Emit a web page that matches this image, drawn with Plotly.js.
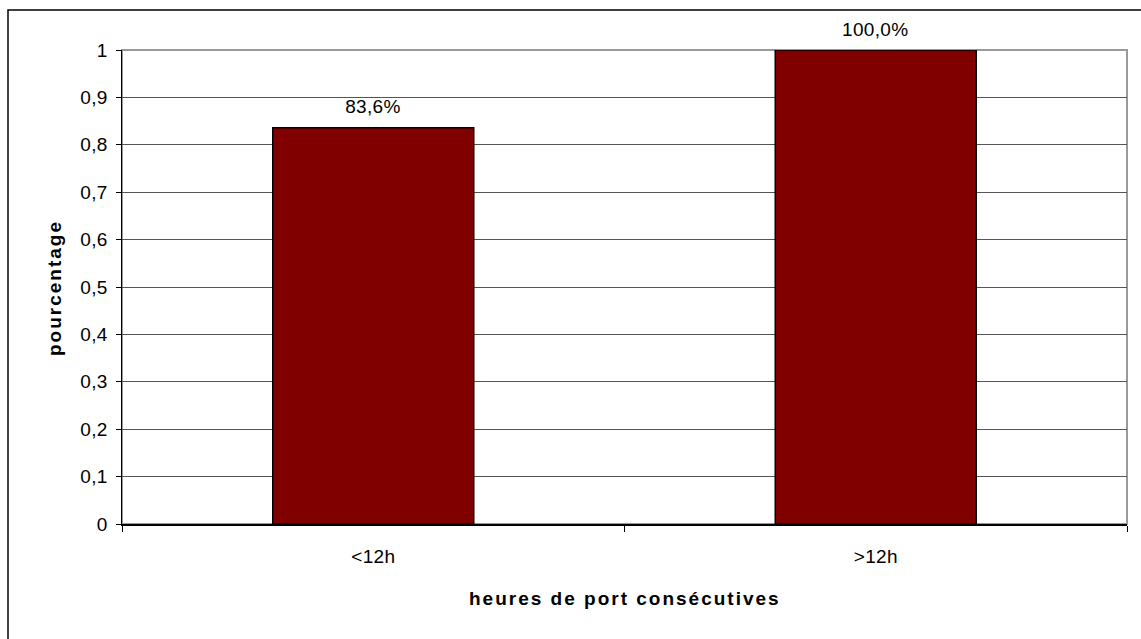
<!DOCTYPE html>
<html>
<head>
<meta charset="utf-8">
<script src="https://cdn.plot.ly/plotly-3.0.1.min.js"></script>
<style>
html,body{margin:0;padding:0;background:#fff;}
#chart{width:1141px;height:639px;}
.xtick text,.ytick text,.annotation.val text{letter-spacing:0.3px;}
.annotation.ttl text{letter-spacing:2px;}
</style>
</head>
<body>
<div id="chart"></div>
<script>
const categories = ["<12h", ">12h"];
const values = [0.836, 1.0];
const labels = ["83,6%", "100,0%"];
const yTickVals = [0, 0.1, 0.2, 0.3, 0.4, 0.5, 0.6, 0.7, 0.8, 0.9, 1];
const yTickText = ["0", "0,1", "0,2", "0,3", "0,4", "0,5", "0,6", "0,7", "0,8", "0,9", "1"];
const xTitle = "heures de port consécutives";
const yTitle = "pourcentage";

const font = "Liberation Sans, Arial, sans-serif";

const trace = {
  type: "bar",
  x: categories,
  y: values,
  marker: {color: "#800000", line: {color: "#000000", width: 1.5}},
  hoverinfo: "none"
};

const annotations = categories.map((c, i) => ({
  x: c, y: values[i], xref: "x", yref: "y",
  text: labels[i], showarrow: false,
  yanchor: "middle", yshift: 21,
  font: {family: font, size: 19, color: "#000"}
}));
annotations.push({
  xref: "paper", yref: "paper", x: (625 - 122) / 1005, y: (524 - 598) / 474,
  xanchor: "center", yanchor: "middle", showarrow: false,
  text: xTitle, font: {family: font, size: 19, color: "#000", weight: "bold"}
});
annotations.push({
  xref: "paper", yref: "paper", x: (54 - 122) / 1005, y: (524 - 288) / 474,
  xanchor: "center", yanchor: "middle", showarrow: false, textangle: -90,
  text: yTitle, font: {family: font, size: 19, color: "#000", weight: "bold"}
});

const layout = {
  width: 1141, height: 639,
  margin: {l: 122, r: 14, t: 50, b: 115},
  paper_bgcolor: "#fff", plot_bgcolor: "#fff",
  showlegend: false,
  bargap: 0.6,
  font: {family: font, size: 19, color: "#000"},
  xaxis: {
    type: "category",
    tickson: "boundaries",
    ticks: "outside", ticklen: 6, tickcolor: "#000", tickwidth: 1,
    ticklabelstandoff: 15,
    showline: true, linecolor: "#000", linewidth: 1.5,
    showgrid: false, zeroline: false,
    tickfont: {family: font, size: 19, color: "#000"}
  },
  yaxis: {
    range: [0, 1],
    tickvals: yTickVals, ticktext: yTickText,
    ticks: "outside", ticklen: 5, tickcolor: "#000", tickwidth: 1,
    ticklabelstandoff: 4,
    showline: true, linecolor: "#000", linewidth: 1.5,
    showgrid: true, gridcolor: "#555", gridwidth: 1,
    zeroline: false,
    tickfont: {family: font, size: 19, color: "#000"}
  },
  annotations: annotations,
  shapes: [
    {type: "rect", xref: "paper", yref: "paper", x0: 0, x1: 1, y0: 0, y1: 1,
     line: {color: "#999", width: 2}, layer: "below"},
    {type: "rect", xref: "paper", yref: "paper",
     x0: (8 - 122) / 1005, x1: (1150 - 122) / 1005,
     y0: (524 - 660) / 474, y1: (524 - 10) / 474,
     line: {color: "#000", width: 1.5}, layer: "below"}
  ]
};

Plotly.newPlot("chart", [trace], layout, {displayModeBar: false, staticPlot: true}).then(() => {
  const anns = document.querySelectorAll(".annotation");
  anns.forEach((a, i) => a.classList.add(i < categories.length ? "val" : "ttl"));
});
</script>
</body>
</html>
